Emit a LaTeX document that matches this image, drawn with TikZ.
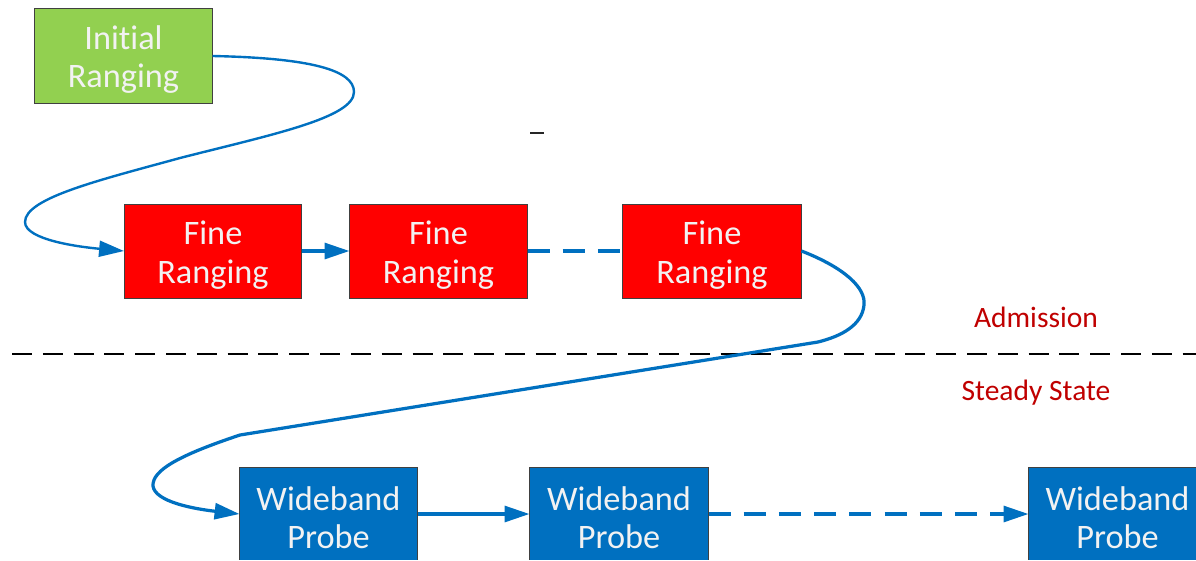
\documentclass[tikz,border=0pt]{standalone}
\usepackage{fontspec}
\setmainfont{Carlito}[Ligatures={NoCommon}]
\usetikzlibrary{arrows.meta}
\definecolor{gfill}{HTML}{92D050}
\definecolor{rfill}{HTML}{FF0000}
\definecolor{bfill}{HTML}{0070C0}
\definecolor{bline}{HTML}{0070C0}
\definecolor{bord}{HTML}{404040}
\definecolor{txt}{HTML}{F2F2F2}
\definecolor{lab}{HTML}{C00000}
\newcommand\boxlift{\rule{0pt}{22.5pt}}
\begin{document}
\begin{tikzpicture}[x=0.025cm,y=-0.025cm,
  box/.style={draw=bord, line width=0.7pt, minimum width=4.425cm, minimum height=2.35cm,
    inner sep=0pt, align=center, text=txt, font=\fontsize{24.4}{27.2}\selectfont},
  conn/.style={draw=bline, line width=2.3pt},
  thin conn/.style={draw=bline, line width=1.7pt},
  tip/.style={-{Triangle[length=17.7pt,width=11.3pt]}},
  bdash/.style={dash pattern=on 0.55cm off 0.33cm},
  sep/.style={draw=black, line width=1pt, dash pattern=on 0.5cm off 0.27cm},
  phase/.style={text=lab, inner sep=0pt, font=\fontsize{21}{24}\selectfont}
]
\clip (0,0) rectangle (1196,560);
\fill[white] (0,0) rectangle (1196,560);

\node[box, fill=gfill] (init) at (123.5,56) {\boxlift Initial\\Ranging};
\node[box, fill=rfill] (fr1) at (213,251) {\boxlift Fine\\Ranging};
\node[box, fill=rfill] (fr2) at (438.5,251) {\boxlift Fine\\Ranging};
\node[box, fill=rfill, minimum width=4.45cm] (fr3) at (712,251) {\boxlift Fine\\Ranging};
\node[box, fill=bfill] (wp1) at (328.5,514) {\boxlift Wideband\\Probe};
\node[box, fill=bfill, minimum width=4.45cm] (wp2) at (619,514) {\boxlift Wideband\\Probe};
\node[box, fill=bfill] (wp3) at (1117.5,514) {\boxlift Wideband\\Probe};
% hide bottom borders, which lie outside the reference frame
\fill[white] (0,560) rectangle (1196,566);

\node[phase] (adm) at (1036,317) {Admission};
\node[phase] (ss) at (1036,393) {Steady State};

\coordinate (sepL) at (12,354);
\coordinate (sepR) at (1200,354);
\draw[sep] (sepL) -- (sepR);

\coordinate (dA) at (530,133);
\coordinate (dB) at (544,133);
\draw[line width=1.2pt, draw=black!85] (dA) -- (dB);

% initial -> fine ranging 1
\draw[thin conn, tip] (init.east) .. controls (310,58) and (354,70) .. (354,92)
  .. controls (354,118) and (270,135) .. (180,158)
  .. controls (100,180) and (25,198) .. (25,222)
  .. controls (25,240) and (80,247) .. (fr1.west);

\draw[conn, tip] (fr1.east) -- (fr2.west);
\draw[conn, bdash] (fr2.east) -- (fr3.west);

% fine ranging 3 -> wideband probe 1
\coordinate (k1) at (818,342);
\coordinate (k2) at (240,435);
\draw[conn, tip] (fr3.east) .. controls (845,268) and (866,288) .. (864,305)
  .. controls (862,325) and (842,336) .. (k1) -- (k2)
  .. controls (180,455) and (152,470) .. (153,486)
  .. controls (155,502) and (195,509) .. (wp1.west);

\draw[conn, tip] (wp1.east) -- (wp2.west);
\draw[conn, bdash, tip] (wp2.east) -- (wp3.west);
\end{tikzpicture}
\end{document}
